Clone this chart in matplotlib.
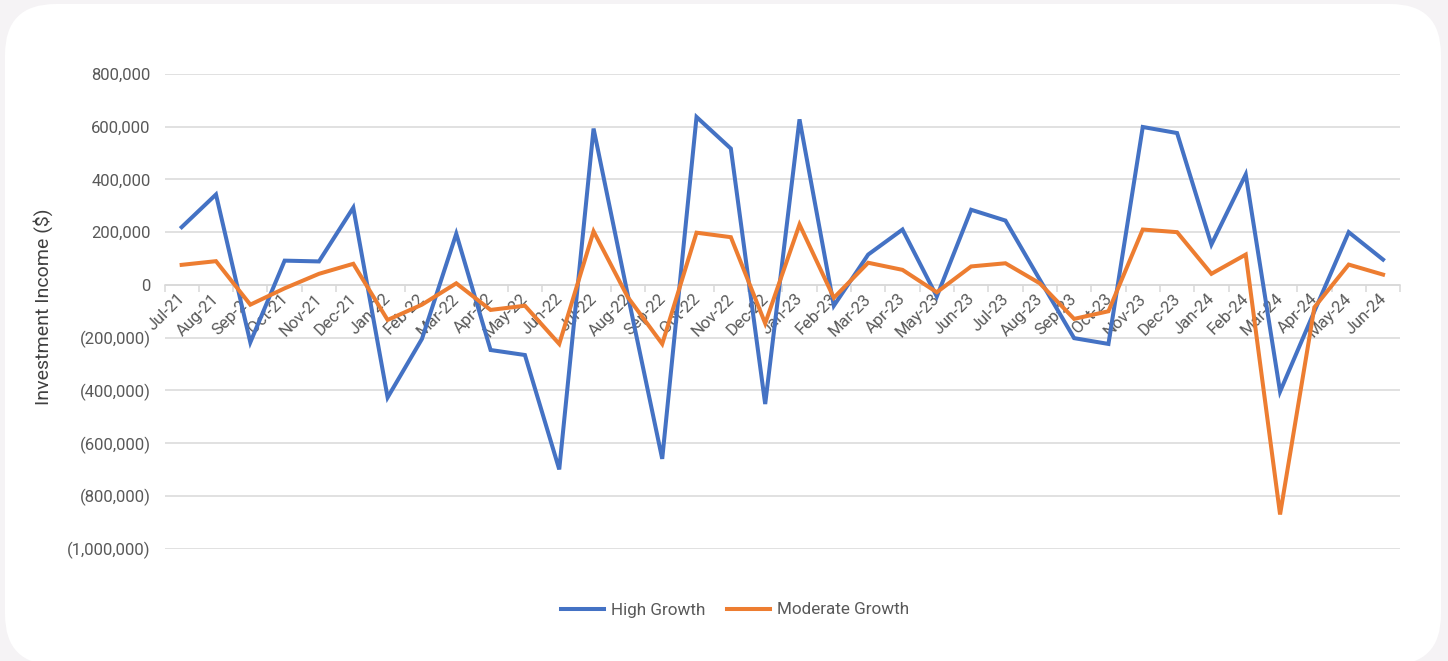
import matplotlib.pyplot as plt
from matplotlib.patches import FancyBboxPatch
from matplotlib.ticker import FuncFormatter, FixedLocator
import matplotlib.transforms as mtransforms

months = ["Jul-21", "Aug-21", "Sep-21", "Oct-21", "Nov-21", "Dec-21",
          "Jan-22", "Feb-22", "Mar-22", "Apr-22", "May-22", "Jun-22",
          "Jul-22", "Aug-22", "Sep-22", "Oct-22", "Nov-22", "Dec-22",
          "Jan-23", "Feb-23", "Mar-23", "Apr-23", "May-23", "Jun-23",
          "Jul-23", "Aug-23", "Sep-23", "Oct-23", "Nov-23", "Dec-23",
          "Jan-24", "Feb-24", "Mar-24", "Apr-24", "May-24", "Jun-24"]

high_growth = [219000, 343000, -218000, 92000, 89000, 293000,
               -427000, -205000, 194000, -247000, -266000, -700000,
               593000, -40000, -660000, 637000, 517000, -452000,
               628000, -79000, 115000, 210000, -44000, 285000,
               244000, 20000, -202000, -224000, 599000, 576000,
               153000, 419000, -405000, -100000, 200000, 96000]

moderate_growth = [76000, 90000, -75000, -13000, 42000, 80000,
                   -133000, -75000, 6000, -95000, -79000, -224000,
                   203000, -47000, -224000, 198000, 181000, -146000,
                   229000, -49000, 84000, 57000, -28000, 70000,
                   82000, 6000, -129000, -100000, 210000, 200000,
                   42000, 115000, -871000, -85000, 77000, 39000]

plt.rcParams['font.family'] = ['Roboto', 'DejaVu Sans']

W, H = 1448, 661
fig = plt.figure(figsize=(W / 100, H / 100), dpi=100)
fig.patch.set_facecolor('#f5f3f5')

# white rounded card behind everything
card = FancyBboxPatch((5 / W, -4 / H), 1436 / W, 661 / H,
                      boxstyle="round,pad=0,rounding_size=0.035",
                      transform=fig.transFigure, facecolor='white',
                      edgecolor='none', mutation_aspect=W / H, zorder=-5)
fig.patches.append(card)

ax = fig.add_axes([164.5 / W, 1 - 548.5 / H, (1400.2 - 164.5) / W, (548.5 - 74) / H])
ax.set_facecolor('none')
ax.set_zorder(2)

x = list(range(len(months)))
ax.plot(x, high_growth, color='#4472C4', lw=2.9, label='High Growth',
        solid_joinstyle='miter', zorder=3)
ax.plot(x, moderate_growth, color='#ED7D31', lw=2.9, label='Moderate Growth',
        solid_joinstyle='miter', zorder=3)

ax.set_xlim(-0.5, len(months) - 0.5)
ax.set_ylim(-1000000, 800000)
ax.set_yticks(range(-1000000, 800001, 200000))


def money(v, pos):
    if v < 0:
        return f"({abs(v):,.0f})"
    return f"{v:,.0f}"


ax.yaxis.set_major_formatter(FuncFormatter(money))
ax.tick_params(axis='y', length=0, pad=10, labelsize=12, labelcolor='#595959')
ax.grid(axis='y', color='#d9d9d9', lw=1.1, zorder=0)
ax.set_axisbelow(True)

for side in ['left', 'right', 'top']:
    ax.spines[side].set_visible(False)
ax.spines['bottom'].set_position(('data', 0))
ax.spines['bottom'].set_color('#d9d9d9')
ax.spines['bottom'].set_linewidth(1.1)

# tick marks between categories, labels at category centres
ax.xaxis.set_major_locator(FixedLocator([i - 0.5 for i in range(len(months) + 1)]))
ax.xaxis.set_major_formatter(FuncFormatter(lambda v, p: ""))
ax.tick_params(axis='x', which='major', length=5, width=1.1, color='#d9d9d9')
offset = mtransforms.ScaledTranslation(6 / 100, -6 / 100, fig.dpi_scale_trans)
for i, m in enumerate(months):
    ax.text(i, 0, m, rotation=45, ha='right', va='top', fontsize=12,
            color='#595959', transform=ax.transData + offset, zorder=2)

fig.text(43 / W, 1 - 307 / H, "Investment Income ($)", rotation=90,
         ha='center', va='center', fontsize=14, color='#404040')

fig.legend(loc='center', bbox_to_anchor=(735 / W, 1 - 610 / H), ncol=2,
           frameon=False, fontsize=12.3, labelcolor='#595959',
           handlelength=2.5, columnspacing=1.3, handletextpad=0.4)

fig.savefig('out.png', dpi=100, facecolor=fig.get_facecolor())
